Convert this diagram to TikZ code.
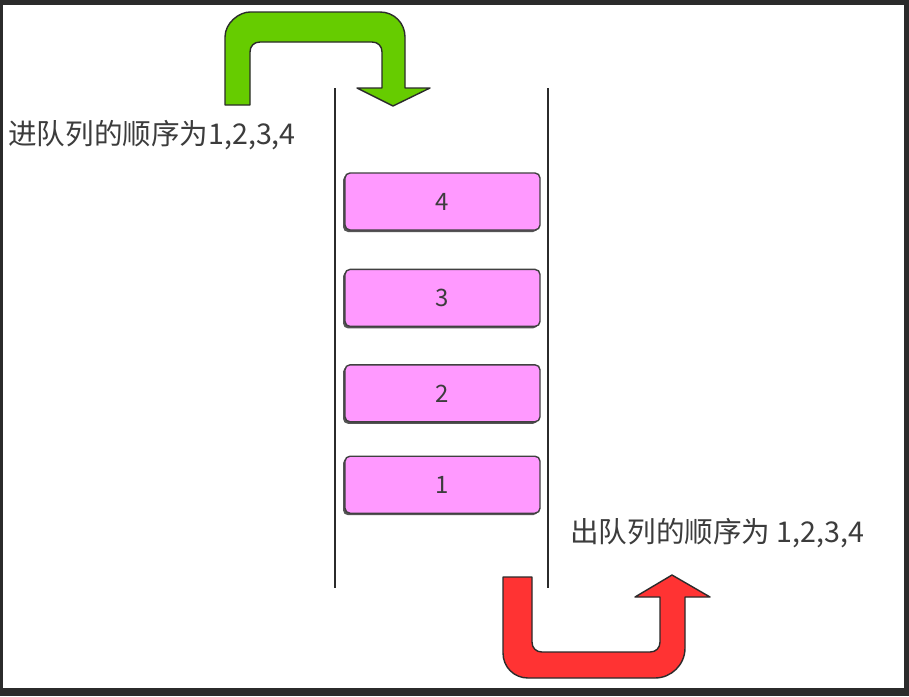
\documentclass[tikz,border=0pt]{standalone}
\usepackage{fontspec}
\newfontfamily\cjk{Noto Sans CJK SC}
\usepackage{xcolor}
\usepackage{tikz}
\usetikzlibrary{positioning, shadows}
\definecolor{framegray}{RGB}{43, 43, 43}
\definecolor{textgray}{RGB}{60, 60, 60}
\definecolor{itempink}{RGB}{255, 153, 255}
\definecolor{ingreen}{RGB}{102, 204, 0}
\definecolor{outred}{RGB}{255, 51, 51}

\begin{document}
\begin{tikzpicture}[
    x=1pt, y=-1pt,
    item/.style={rectangle, draw=framegray!90, line width=1.4pt, fill=itempink, rounded corners=5pt, minimum width=195pt, minimum height=57pt, inner sep=0pt, font=\cjk\fontsize{24}{28}\selectfont, text=textgray, drop shadow={shadow xshift=-2pt, shadow yshift=-2pt, fill=framegray, opacity=0.8}},
    caption/.style={anchor=west, inner sep=0pt, font=\cjk\fontsize{28.6}{32}\selectfont, text=textgray},
    wall/.style={line width=1.4pt, color=framegray},
    turn/.style={draw=framegray, line width=1.4pt, line join=round}
]
    \useasboundingbox (0,0) rectangle (909,696);
    \fill[framegray] (0,0) rectangle (909,696);
    \fill[white] (3,5) rectangle (904,688);

    % queue walls
    \draw[wall] (335,88) -- (335,588);
    \draw[wall] (548,88) -- (548,588);

    % queue items
    \node[item] (q4) at (442.5,201.5) {4};
    \node[item, below=38pt of q4] (q3) {3};
    \node[item, below=37pt of q3] (q2) {2};
    \node[item, below=33pt of q2] (q1) {1};

    \node[caption] (enq) at (8,135) {进队列的顺序为1,2,3,4};
    \node[caption] (deq) at (570,533) {出队列的顺序为 1,2,3,4};

    % enqueue arrow
    \filldraw[turn, fill=ingreen] (225,105) -- (225,37) .. controls (225,23) and (239,12) .. (250,12)
        -- (380,12) .. controls (394,12) and (405,23) .. (405,37) -- (405,88) -- (430,88) -- (393,106)
        -- (357,88) -- (382,88) -- (382,52) .. controls (382,46) and (378,42) .. (372,42)
        -- (260,42) .. controls (254,42) and (250,46) .. (250,52) -- (250,105) -- cycle;

    % dequeue arrow
    \filldraw[turn, fill=outred] (503,577) -- (503,653) .. controls (503,667) and (514,678) .. (528,678)
        -- (655,678) .. controls (671,678) and (685,665) .. (685,648) -- (685,597) -- (710,597) -- (672,575)
        -- (635,597) -- (660,597) -- (660,642) .. controls (660,648) and (656,652) .. (650,652)
        -- (542,652) .. controls (536,652) and (532,648) .. (532,642) -- (532,577) -- cycle;
\end{tikzpicture}
\end{document}
